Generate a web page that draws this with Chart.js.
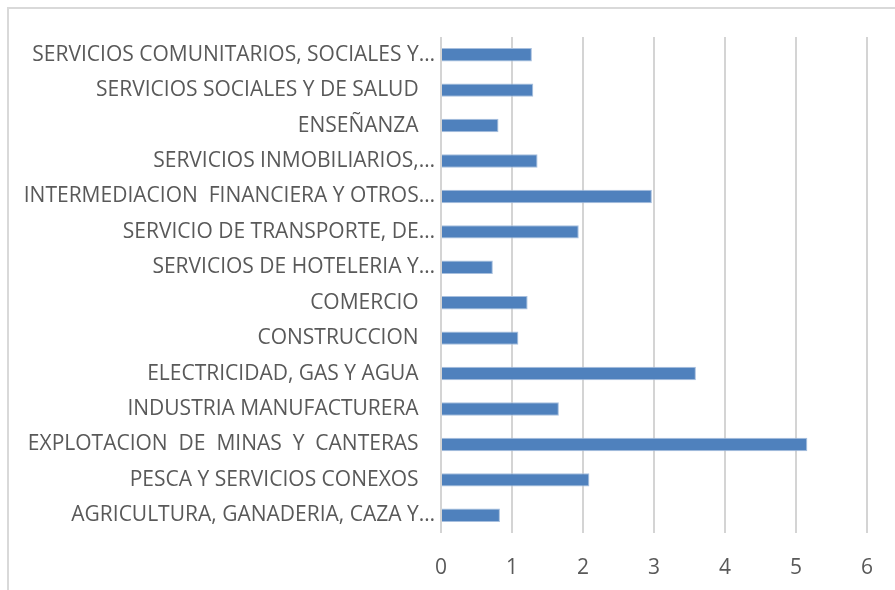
<!DOCTYPE html>
<html><head><meta charset="utf-8">
<script src="https://cdn.jsdelivr.net/npm/chart.js@4.4.1/dist/chart.umd.min.js"></script>
<style>
html,body{margin:0;padding:0;background:#fff;overflow:hidden;}
#wrap{position:relative;width:895px;height:590px;}
#frame{position:absolute;left:7px;top:7px;width:1000px;height:1000px;border-left:2px solid #d9d9d9;border-top:2px solid #d9d9d9;}
canvas{position:absolute;left:0;top:0;}
</style></head><body>
<div id="wrap"><div id="frame"></div><canvas id="c" width="895" height="590"></canvas></div>
<script>
const categories = [
  "SERVICIOS COMUNITARIOS, SOCIALES Y\u2026",
  "SERVICIOS SOCIALES Y DE SALUD   ",
  "ENSEÑANZA   ",
  "SERVICIOS INMOBILIARIOS,\u2026",
  "INTERMEDIACION  FINANCIERA Y OTROS\u2026",
  "SERVICIO DE TRANSPORTE, DE\u2026",
  "SERVICIOS DE HOTELERIA Y\u2026",
  "COMERCIO   ",
  "CONSTRUCCION   ",
  "ELECTRICIDAD, GAS Y AGUA   ",
  "INDUSTRIA MANUFACTURERA   ",
  "EXPLOTACION  DE  MINAS  Y  CANTERAS   ",
  "PESCA Y SERVICIOS CONEXOS   ",
  "AGRICULTURA, GANADERIA, CAZA Y\u2026"
];
const values = [1.28, 1.30, 0.81, 1.36, 2.97, 1.94, 0.73, 1.22, 1.09, 3.59, 1.66, 5.16, 2.09, 0.83];
const xTicks = [0, 1, 2, 3, 4, 5, 6];

const FONT = '"Open Sans", sans-serif';
new Chart(document.getElementById('c'), {
  type: 'bar',
  data: { labels: categories, datasets: [{ data: values, backgroundColor: '#4f81bd', borderColor: '#a7bfde', borderWidth: 1, barPercentage: 0.76, categoryPercentage: 0.5 }] },
  options: {
    indexAxis: 'y', responsive: false, animation: false,
    layout: { padding: { top: 37, right: 27, left: 0, bottom: 0 } },
    plugins: { legend: { display: false }, tooltip: { enabled: false } },
    scales: {
      x: { min: 0, max: 6, afterBuildTicks: s => { s.ticks = xTicks.map(v => ({ value: v })); },
        grid: { color: '#d4d4d4', lineWidth: 2, drawTicks: false },
        border: { display: false },
        ticks: { font: { family: FONT, size: 21 }, color: '#595959', padding: 22 },
        afterFit: s => { s.height = 57; } },
      y: { grid: { display: false, drawTicks: false, tickLength: 0 }, border: { display: false },
        ticks: { font: { family: FONT, size: 21 }, color: '#595959', padding: 6, autoSkip: false },
        afterFit: s => { s.width = 441; } }
    }
  }
});
</script></body></html>
